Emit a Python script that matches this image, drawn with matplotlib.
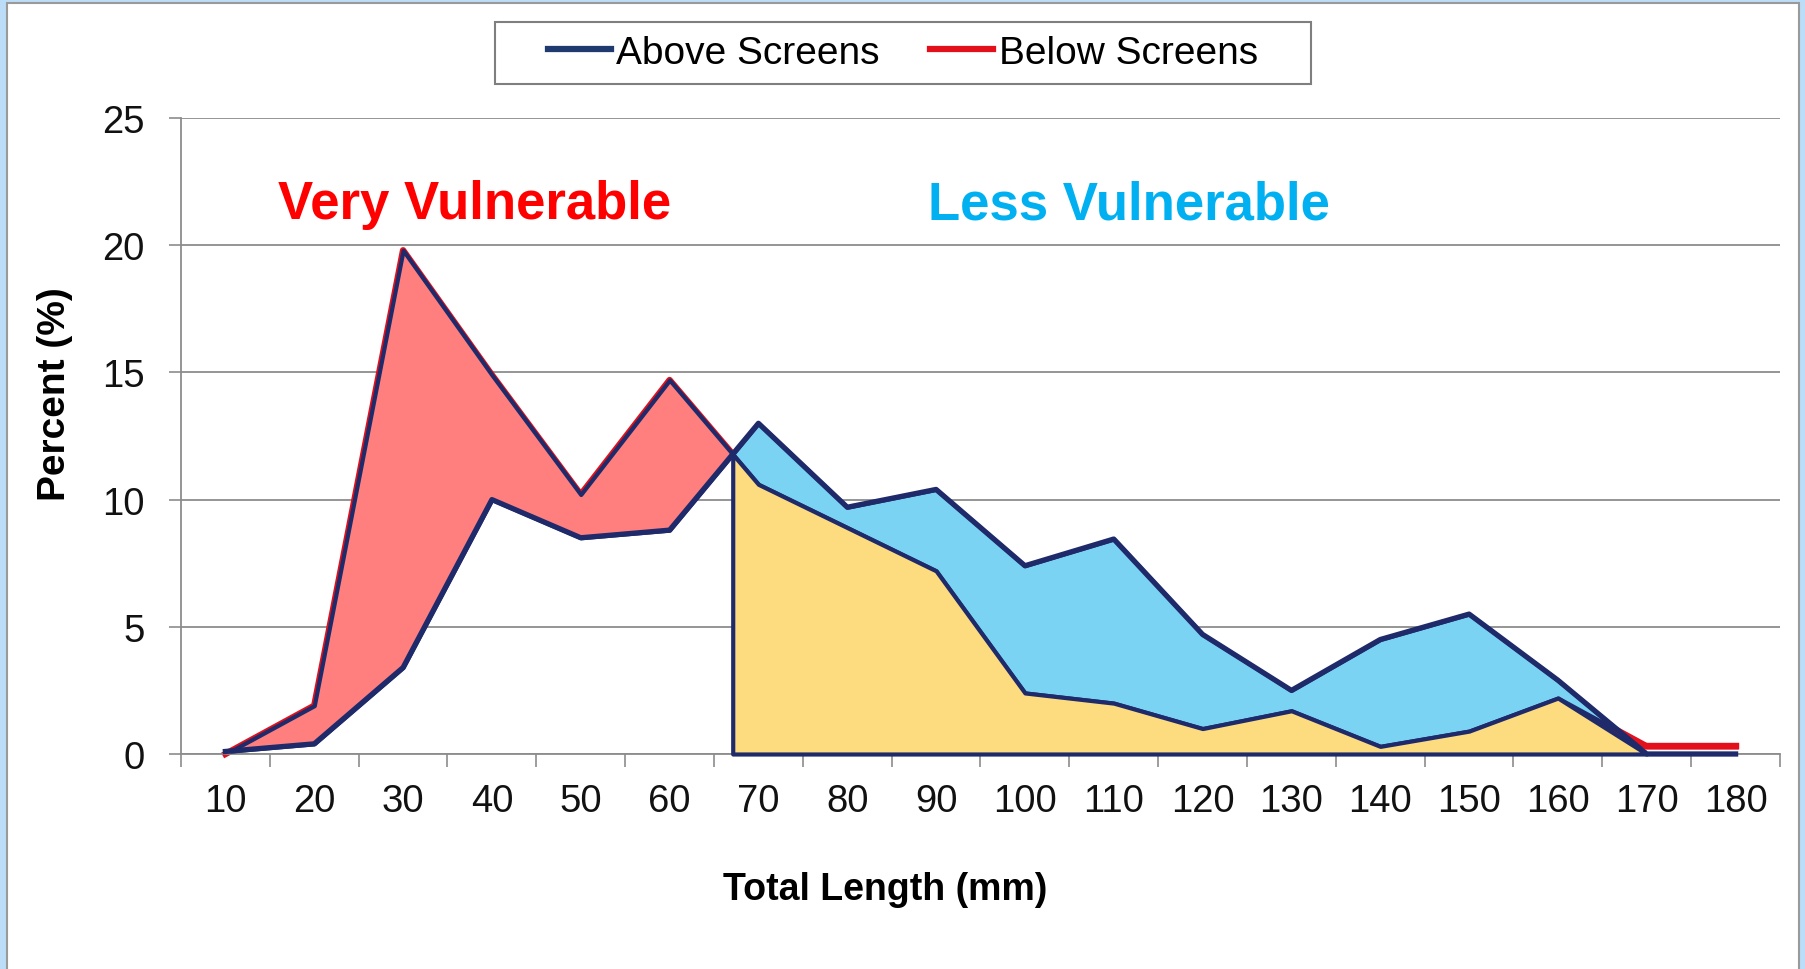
import numpy as np
import matplotlib.pyplot as plt
from matplotlib.patches import Rectangle
from matplotlib.lines import Line2D
from matplotlib.ticker import FixedLocator, NullFormatter

plt.rcParams['font.family'] = ['Liberation Sans', 'DejaVu Sans']

# Length-frequency (%) of fish caught above and below the screens
lengths = [10, 20, 30, 40, 50, 60, 70, 80, 90, 100, 110, 120, 130, 140, 150, 160, 170, 180]
above = np.array([0.1, 0.4, 3.4, 10.0, 8.5, 8.8, 13.0, 9.7, 10.4, 7.4, 8.45, 4.7, 2.5, 4.5, 5.5, 2.9, 0.0, 0.0])
below = np.array([0.0, 1.9, 19.8, 14.9, 10.2, 14.7, 10.6, 8.9, 7.2, 2.4, 2.0, 1.0, 1.7, 0.3, 0.9, 2.2, 0.3, 0.3])
y_ticks = [0, 5, 10, 15, 20, 25]

NAVY = '#1E2A6A'
LINE_NAVY = '#1F3A6E'
RED = '#E3101C'
W, H = 1806, 970

fig = plt.figure(figsize=(W / 100, H / 100), dpi=100, facecolor='#BCDDF8')
# white panel with thin gray border
fig.patches.append(Rectangle((7 / W, -0.02), (1799 - 7) / W, 966 / H + 0.02,
                             transform=fig.transFigure, facecolor='white',
                             edgecolor='#9A9A9A', lw=1.5, zorder=-5))

ax = fig.add_axes([181 / W, 1 - 755 / H, (1780 - 181) / W, (755 - 119) / H])
ax.set_facecolor('none')
ax.set_zorder(2)

x = np.arange(1, len(lengths) + 1, dtype=float)
d = below - above

# crossing where "above" overtakes "below"
i = next(k for k in range(len(d) - 1) if d[k] > 0 and d[k + 1] < 0)
t = d[i] / (d[i] - d[i + 1])
xc = x[i] + t
yc = above[i] + t * (above[i + 1] - above[i])

low = np.minimum(above, below)
end = next(k for k in range(i + 1, len(x)) if low[k] == 0)

# Below Screens line sits under the filled areas
ax.plot(x, below, color=RED, lw=4.6, zorder=2, clip_on=False)

ax.fill_between(x, above, below, where=(below >= above) & (x <= x[i]), interpolate=True,
                facecolor='#FF7F7F', edgecolor=NAVY, lw=3.0, zorder=3, clip_on=False)
ax.fill_between(x, above, below, where=(above >= below) & (x > x[i]), interpolate=True,
                facecolor='#7AD3F3', edgecolor=NAVY, lw=3.0, zorder=3, clip_on=False)

xs = np.concatenate([[xc], x[i + 1:end + 1]])
ys = np.concatenate([[yc], low[i + 1:end + 1]])
ax.fill_between(xs, 0, ys, facecolor='#FDDC80', edgecolor=NAVY, lw=3.0, zorder=3, clip_on=False)

ax.plot(x, above, color=NAVY, lw=3.8, zorder=4, clip_on=False)
ax.plot(x[end:], below[end:], color=RED, lw=4.6, zorder=5, clip_on=False)

ax.set_xlim(0.5, len(lengths) + 0.5)
ax.set_ylim(0, 25)
ax.set_yticks(y_ticks)
ax.set_xticks(x)
ax.set_xticklabels([str(v) for v in lengths])
ax.xaxis.set_minor_locator(FixedLocator(np.arange(0.5, len(lengths) + 1, 1.0)))
ax.xaxis.set_minor_formatter(NullFormatter())

ax.tick_params(axis='x', which='major', length=0, pad=21, labelsize=27.5, labelcolor='#111111')
ax.tick_params(axis='x', which='minor', length=9, width=1.2, color='#8C8C8C', direction='out')
ax.tick_params(axis='y', length=9, width=1.2, color='#8C8C8C', pad=17, labelsize=27.5,
               labelcolor='#111111')

ax.grid(axis='y', color='#8C8C8C', lw=1.3)
ax.set_axisbelow(True)
for s in ('top', 'right'):
    ax.spines[s].set_visible(False)
for s in ('left', 'bottom'):
    ax.spines[s].set_color('#8C8C8C')
    ax.spines[s].set_linewidth(1.3)

ax.text(3.81, 21.05, 'Very Vulnerable', color='#FF0000', fontsize=38, fontweight='bold',
        ha='center', va='baseline')
ax.text(11.17, 21.05, 'Less Vulnerable', color='#00B0F0', fontsize=38, fontweight='bold',
        ha='center', va='baseline')

fig.text(885 / W, 1 - 890 / H, 'Total Length (mm)', fontsize=27, fontweight='bold',
         ha='center', va='center')
fig.text(55 / W, 1 - 394 / H, 'Percent (%)', fontsize=28, fontweight='bold',
         rotation=90, ha='center', va='center')

handles = [Line2D([], [], color=LINE_NAVY, lw=4.5), Line2D([], [], color=RED, lw=4.5)]
fig.legend(handles, ['Above Screens', 'Below Screens'], loc='center',
           bbox_to_anchor=(903 / W, 1 - 54 / H), ncol=2, frameon=False, fontsize=28,
           handlelength=1.6, handletextpad=0.15, columnspacing=1.3)
fig.patches.append(Rectangle((495 / W, 1 - 85 / H), 816 / W, 62 / H, transform=fig.transFigure,
                             fill=False, edgecolor='#7F7F7F', lw=1.5, zorder=1))

fig.savefig('out.png', dpi=100, facecolor=fig.get_facecolor())
